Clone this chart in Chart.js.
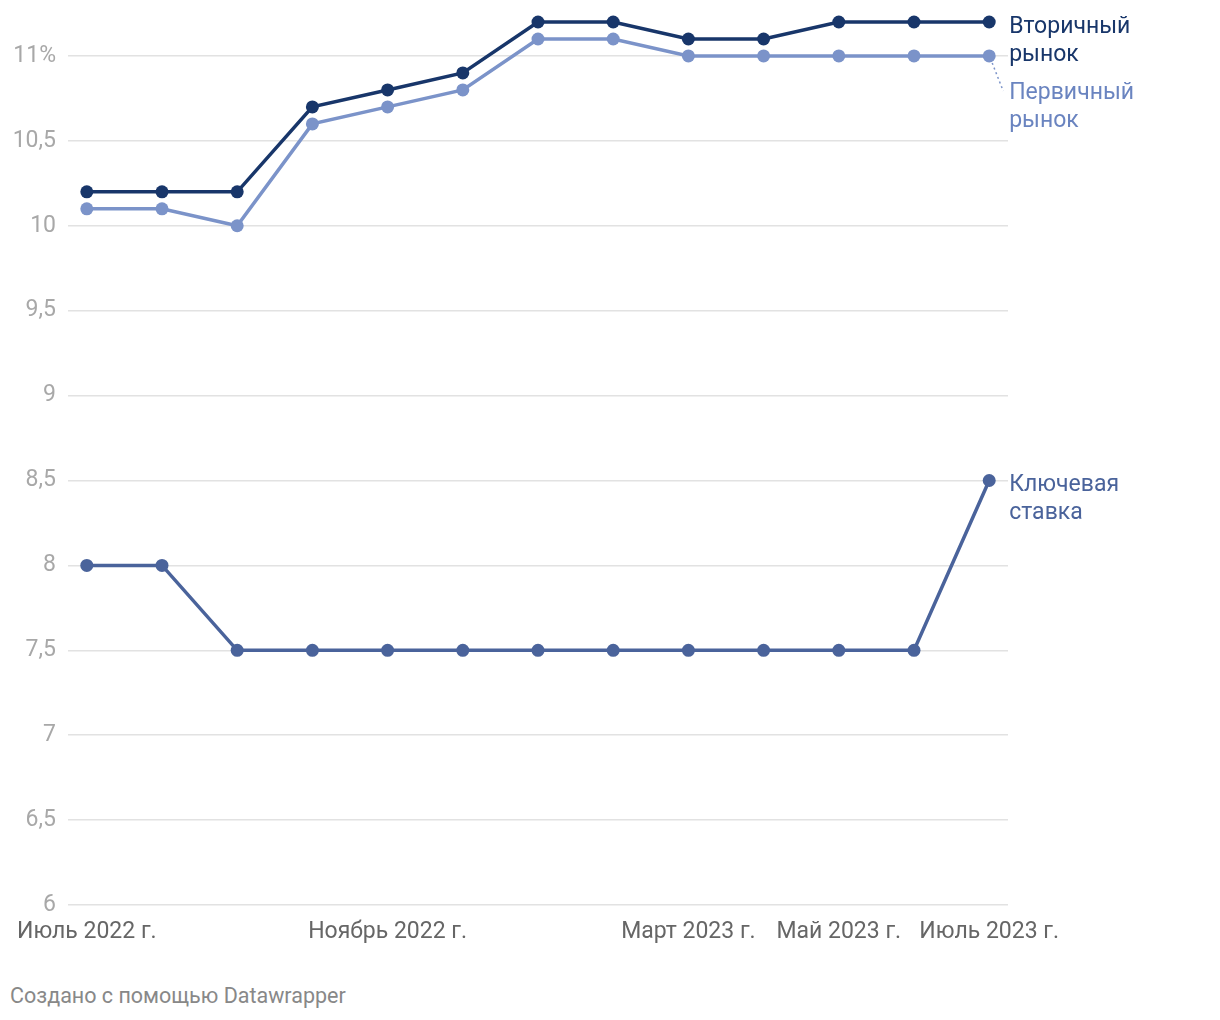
<!DOCTYPE html>
<html>
<head>
<meta charset="utf-8">
<script src="https://cdn.jsdelivr.net/npm/chart.js@4"></script>
<style>
  body { margin: 0; background: #fff; font-family: Roboto, sans-serif; }
  #wrap { position: relative; width: 1220px; height: 1020px; }
  #chart { position: absolute; left: 0; top: 0; }
  #credit { position: absolute; left: 10px; top: 983px; font-size: 21.5px; color: #888; }
</style>
</head>
<body>
<div id="wrap">
  <canvas id="chart" width="1220" height="960"></canvas>
  <div id="credit">Создано с помощью Datawrapper</div>
</div>
<script>
// Месяцы (июль 2022 - июль 2023)
const months = ['Июль 2022 г.', 'Август 2022 г.', 'Сентябрь 2022 г.', 'Октябрь 2022 г.', 'Ноябрь 2022 г.',
    'Декабрь 2022 г.', 'Январь 2023 г.', 'Февраль 2023 г.', 'Март 2023 г.', 'Апрель 2023 г.',
    'Май 2023 г.', 'Июнь 2023 г.', 'Июль 2023 г.'];
// Какие подписи показываются на оси X
const shownTicks = [0, 4, 8, 10, 12];

// Значения рядов, %
const secondaryMarket = [10.2, 10.2, 10.2, 10.7, 10.8, 10.9, 11.2, 11.2, 11.1, 11.1, 11.2, 11.2, 11.2];
const primaryMarket = [10.1, 10.1, 10.0, 10.6, 10.7, 10.8, 11.1, 11.1, 11.0, 11.0, 11.0, 11.0, 11.0];
const keyRate = [8, 8, 7.5, 7.5, 7.5, 7.5, 7.5, 7.5, 7.5, 7.5, 7.5, 7.5, 8.5];

// Деления оси Y
const yTicks = [6, 6.5, 7, 7.5, 8, 8.5, 9, 9.5, 10, 10.5, 11];

const colSecondary = '#18366a';
const colPrimary = '#7b93c9';
const colKey = '#4a639b';

function toPoints(arr) {
    return arr.map((v, i) => ({ x: i, y: v }));
}

function formatY(v) {
    let s = String(v).replace('.', ',');
    if (v === 11) s += '%';
    return s;
}

// Подписи справа от последних точек
const endLabels = {
    id: 'endLabels',
    afterDatasetsDraw(chart) {
        const ctx = chart.ctx;
        const xs = chart.scales.x;
        const ys = chart.scales.y;
        const last = months.length - 1;
        const lx = xs.getPixelForValue(last) + 20;
        ctx.save();
        ctx.font = '23px Roboto';
        ctx.textBaseline = 'middle';
        ctx.textAlign = 'left';

        const ySec = ys.getPixelForValue(secondaryMarket[last]);
        ctx.fillStyle = colSecondary;
        ctx.fillText('Вторичный', lx, ySec + 5);
        ctx.fillText('рынок', lx, ySec + 33);

        const yPri = ys.getPixelForValue(primaryMarket[last]);
        ctx.fillStyle = '#6a84c0';
        ctx.fillText('Первичный', lx, yPri + 37);
        ctx.fillText('рынок', lx, yPri + 65);

        // пунктир от точки к подписи
        ctx.strokeStyle = colPrimary;
        ctx.lineWidth = 1.5;
        ctx.setLineDash([2, 3]);
        ctx.beginPath();
        ctx.moveTo(xs.getPixelForValue(last) + 3, yPri + 7);
        ctx.lineTo(xs.getPixelForValue(last) + 14, yPri + 35);
        ctx.stroke();
        ctx.setLineDash([]);

        const yKey = ys.getPixelForValue(keyRate[last]);
        ctx.fillStyle = colKey;
        ctx.fillText('Ключевая', lx, yKey + 5);
        ctx.fillText('ставка', lx, yKey + 33);
        ctx.restore();
    }
};

function makeDataset(label, arr, color) {
    return {
        label: label,
        data: toPoints(arr),
        borderColor: color,
        backgroundColor: color,
        borderWidth: 3.5,
        pointRadius: 6.5,
        pointHoverRadius: 6.5,
        pointBorderWidth: 0,
        tension: 0,
        clip: false
    };
}

const ctx = document.getElementById('chart').getContext('2d');
const chart = new Chart(ctx, {
    type: 'line',
    data: {
        datasets: [
            makeDataset('Ключевая ставка', keyRate, colKey),
            makeDataset('Первичный рынок', primaryMarket, colPrimary),
            makeDataset('Вторичный рынок', secondaryMarket, colSecondary)
        ]
    },
    options: {
        responsive: false,
        animation: false,
        layout: { padding: { top: 22, right: 212, left: 0, bottom: 0 } },
        plugins: {
            legend: { display: false },
            tooltip: { enabled: false }
        },
        scales: {
            x: {
                type: 'linear',
                min: -0.25,
                max: 12.25,
                afterBuildTicks(scale) {
                    scale.ticks = shownTicks.map(v => ({ value: v }));
                },
                afterFit(scale) {
                    scale.height = 55;
                    scale.paddingLeft = 0;
                    scale.paddingRight = 0;
                },
                grid: { display: false, drawTicks: false },
                border: { display: false },
                ticks: {
                    padding: 13,
                    maxRotation: 0,
                    autoSkip: false,
                    color: '#666',
                    font: { family: 'Roboto', size: 23 },
                    callback: v => months[v]
                }
            },
            y: {
                min: 6,
                max: 11.2,
                afterBuildTicks(scale) {
                    scale.ticks = yTicks.map(v => ({ value: v }));
                },
                afterFit(scale) {
                    scale.width = 68;
                    scale.paddingTop = 0;
                    scale.paddingBottom = 0;
                },
                grid: { color: '#e2e2e2', lineWidth: 1.5, drawTicks: false },
                border: { display: false },
                ticks: {
                    padding: 12,
                    color: '#a8a8a8',
                    font: { family: 'Roboto', size: 23 },
                    callback: v => formatY(v)
                }
            }
        }
    },
    plugins: [endLabels]
});
</script>
</body>
</html>
